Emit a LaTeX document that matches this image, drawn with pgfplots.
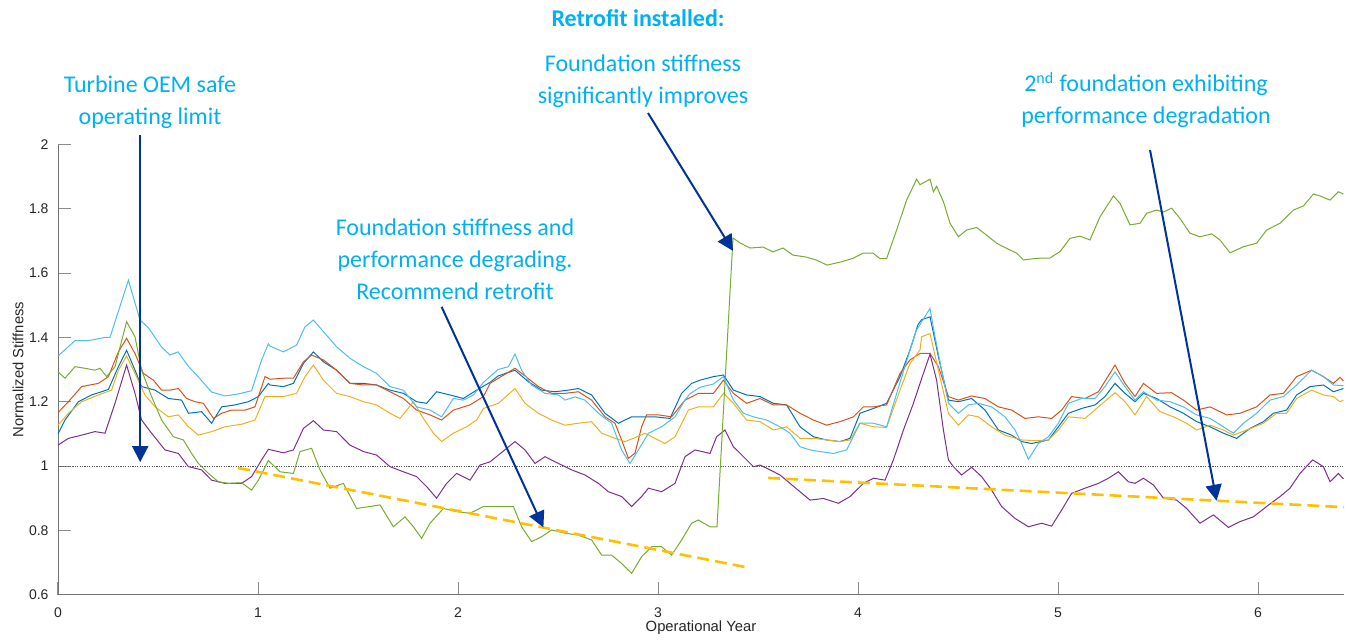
\documentclass[border=0pt]{standalone}
\usepackage{pgfplots}
\pgfplotsset{compat=1.18}
\usepackage{fontspec}
\setmainfont{Liberation Sans}
\newfontfamily\annfont{Carlito}
\usetikzlibrary{arrows.meta}
\definecolor{mB}{HTML}{0072BD}
\definecolor{mO}{HTML}{D95319}
\definecolor{mY}{HTML}{EDB120}
\definecolor{mP}{HTML}{7E2F8E}
\definecolor{mG}{HTML}{77AC30}
\definecolor{mL}{HTML}{4DBEEE}
\definecolor{anncol}{RGB}{0,176,240}
\definecolor{arrcol}{RGB}{0,51,153}
\definecolor{trend}{HTML}{FFC000}
\begin{document}
\begin{tikzpicture}
\begin{axis}[
  at={(29pt,22.2pt)}, anchor=south west,
  scale only axis, width=643pt, height=225.05pt,
  xmin=0, xmax=6.43, ymin=0.6, ymax=2,
  axis lines=left, axis line style={-, black!55},
  tick align=inside, major tick length=6.5pt,
  tick style={black!45, line width=0.5pt},
  xtick={0,1,2,3,4,5,6}, ytick={0.6,0.8,1,1.2,1.4,1.6,1.8,2},
  /pgf/number format/assume math mode=true,
  tick label style={font=\fontsize{7}{8}\selectfont, text=black!85},
  xticklabel style={yshift=-3pt},
  yticklabel style={xshift=-1.2pt},
  xlabel={Operational Year}, ylabel={Normalized Stiffness},
  every axis x label/.style={at={(rel axis cs:0.5,-0.074)}, anchor=center, font=\fontsize{7.4}{8}\selectfont, text=black!85},
  every axis y label/.style={at={(rel axis cs:-0.0311,0.5)}, rotate=90, anchor=center, font=\fontsize{7.4}{8}\selectfont, text=black!85},
  clip=false,
  every axis plot/.append style={line width=0.5pt},
]
% reference line
\addplot[black!65, line width=0.5pt, dash pattern=on 0.6pt off 0.6pt] coordinates {(0,1) (6.43,1)};
% blue
\addplot[mB] coordinates {(0,1.10) (0.035,1.143) (0.102,1.2) (0.168,1.221) (0.252,1.238) (0.302,1.309) (0.343,1.36) (0.385,1.298) (0.418,1.247) (0.485,1.236) (0.552,1.21) (0.618,1.205) (0.652,1.164) (0.718,1.169) (0.768,1.133) (0.818,1.184) (0.885,1.19) (0.952,1.2) (1.002,1.216) (1.052,1.257)
(1.06,1.252) (1.127,1.247) (1.177,1.257) (1.227,1.319) (1.277,1.355) (1.327,1.324) (1.393,1.298) (1.46,1.257) (1.527,1.257) (1.593,1.252) (1.66,1.236) (1.727,1.226) (1.793,1.2) (1.843,1.195) (1.893,1.231) (1.96,1.221) (2.027,1.21) (2.093,1.236) (2.16,1.26)
(2.2,1.28) (2.285,1.298) (2.352,1.262) (2.418,1.236) (2.485,1.231) (2.552,1.236) (2.602,1.241) (2.668,1.221) (2.735,1.164) (2.802,1.133) (2.868,1.153) (2.918,1.153) (2.985,1.153) (3.06,1.148) (3.118,1.226) (3.168,1.257) (3.21,1.267)
(3.277,1.278) (3.327,1.283) (3.377,1.236) (3.443,1.221) (3.51,1.216) (3.577,1.195) (3.643,1.19) (3.71,1.122) (3.777,1.091) (3.843,1.081) (3.91,1.076) (3.96,1.086) (4.01,1.164) (4.077,1.179) (4.143,1.195) (4.21,1.278) (4.26,1.361)
(4.30,1.44) (4.318,1.455) (4.36,1.464) (4.402,1.34) (4.452,1.205) (4.502,1.2) (4.568,1.21) (4.635,1.174) (4.702,1.112) (4.768,1.096) (4.818,1.076) (4.868,1.07) (4.952,1.081) (5.002,1.122) (5.052,1.164) (5.118,1.179) (5.185,1.19) (5.235,1.216) (5.285,1.257) (5.335,1.226) (5.385,1.20)
(5.427,1.226) (5.493,1.21) (5.56,1.184) (5.627,1.164) (5.693,1.138) (5.76,1.122) (5.827,1.102) (5.893,1.086) (5.96,1.117) (6.027,1.138) (6.077,1.164) (6.143,1.174) (6.193,1.221) (6.26,1.247) (6.327,1.252) (6.377,1.231) (6.427,1.241)};
% orange
\addplot[mO] coordinates {(0,1.166) (0.052,1.2) (0.118,1.247) (0.202,1.257) (0.252,1.278) (0.302,1.355) (0.343,1.397) (0.385,1.35) (0.427,1.288) (0.477,1.267) (0.518,1.236) (0.56,1.236) (0.602,1.241) (0.643,1.21) (0.685,1.2) (0.727,1.195) (0.777,1.148) (0.818,1.164) (0.868,1.174) (0.935,1.174) (0.985,1.184) (1.035,1.278) (1.06,1.27)
(1.127,1.273) (1.177,1.273) (1.227,1.324) (1.268,1.345) (1.327,1.33) (1.393,1.298) (1.46,1.257) (1.527,1.252) (1.593,1.252) (1.66,1.231) (1.727,1.21) (1.793,1.174) (1.86,1.159) (1.918,1.143) (1.977,1.174) (2.06,1.19) (2.127,1.216)
(2.16,1.257) (2.202,1.273) (2.285,1.304) (2.335,1.28) (2.402,1.247) (2.468,1.226) (2.535,1.226) (2.602,1.231) (2.668,1.205) (2.735,1.153) (2.785,1.133) (2.818,1.081) (2.852,1.024) (2.885,1.04) (2.918,1.122) (2.943,1.159) (3.002,1.159) (3.068,1.153) (3.135,1.205) (3.202,1.226)
(3.277,1.226) (3.327,1.267) (3.377,1.226) (3.443,1.195) (3.51,1.21) (3.577,1.19) (3.643,1.19) (3.71,1.164) (3.777,1.143) (3.843,1.127) (3.91,1.138) (3.977,1.153) (4.027,1.184) (4.077,1.184) (4.143,1.19) (4.21,1.288) (4.26,1.33) (4.31,1.35)
(4.36,1.35) (4.402,1.309) (4.452,1.216) (4.502,1.205) (4.568,1.218) (4.635,1.21) (4.702,1.184) (4.768,1.174) (4.835,1.148) (4.902,1.153) (4.968,1.148) (5.018,1.174) (5.068,1.216) (5.135,1.21) (5.202,1.231) (5.285,1.314) (5.335,1.257) (5.385,1.216)
(5.427,1.257) (5.493,1.226) (5.568,1.228) (5.627,1.205) (5.693,1.174) (5.76,1.184) (5.843,1.159) (5.91,1.164) (5.993,1.184) (6.06,1.221) (6.127,1.226) (6.193,1.278) (6.268,1.298) (6.327,1.278) (6.377,1.257) (6.41,1.276) (6.427,1.265)};
% yellow
\addplot[mY] coordinates {(0,1.127) (0.052,1.164) (0.118,1.2) (0.202,1.221) (0.268,1.236) (0.302,1.298) (0.343,1.342) (0.385,1.288) (0.435,1.221) (0.485,1.184) (0.552,1.153) (0.602,1.159) (0.652,1.122) (0.702,1.096) (0.768,1.107) (0.835,1.122) (0.918,1.13) (0.985,1.143) (1.035,1.216) (1.06,1.216)
(1.127,1.216) (1.193,1.226) (1.235,1.278) (1.277,1.314) (1.327,1.267) (1.393,1.226) (1.46,1.216) (1.527,1.2) (1.593,1.19) (1.66,1.164) (1.71,1.148) (1.777,1.2) (1.827,1.148) (1.877,1.102) (1.918,1.076) (1.977,1.102) (2.043,1.122) (2.093,1.143) (2.127,1.179)
(2.202,1.195) (2.285,1.241) (2.335,1.195) (2.402,1.164) (2.468,1.143) (2.535,1.127) (2.602,1.133) (2.668,1.138) (2.718,1.102) (2.785,1.086) (2.835,1.076) (2.877,1.086) (2.935,1.102) (2.985,1.086) (3.035,1.07) (3.085,1.091) (3.152,1.174) (3.202,1.184)
(3.277,1.184) (3.327,1.226) (3.377,1.195) (3.443,1.143) (3.51,1.138) (3.577,1.112) (3.643,1.122) (3.71,1.086) (3.777,1.086) (3.843,1.081) (3.91,1.076) (3.96,1.081) (4.01,1.133) (4.077,1.122) (4.143,1.12) (4.21,1.236) (4.26,1.319) (4.31,1.361)
(4.318,1.402) (4.36,1.412) (4.402,1.298) (4.452,1.164) (4.502,1.127) (4.552,1.159) (4.602,1.153) (4.668,1.122) (4.735,1.096) (4.818,1.081) (4.885,1.079) (4.952,1.081) (5.002,1.112) (5.052,1.153) (5.135,1.148) (5.202,1.184) (5.285,1.228) (5.335,1.2) (5.385,1.159)
(5.443,1.216) (5.51,1.169) (5.577,1.153) (5.643,1.133) (5.693,1.112) (5.76,1.127) (5.827,1.112) (5.877,1.096) (5.943,1.112) (6.027,1.133) (6.093,1.164) (6.143,1.164) (6.193,1.21) (6.268,1.236) (6.327,1.221) (6.377,1.216) (6.41,1.2) (6.427,1.205)};
% purple
\addplot[mP] coordinates {(0,1.065) (0.052,1.086) (0.118,1.096) (0.185,1.107) (0.235,1.102) (0.285,1.195) (0.343,1.314) (0.385,1.226) (0.418,1.143) (0.468,1.102) (0.535,1.05) (0.602,1.039) (0.652,0.998) (0.718,0.988) (0.768,0.956) (0.835,0.946) (0.918,0.946) (0.968,0.967) (1.018,1.019) (1.052,1.052)
(1.127,1.041) (1.177,1.05) (1.227,1.117) (1.277,1.141) (1.327,1.112) (1.393,1.107) (1.46,1.065) (1.527,1.045) (1.593,1.034) (1.66,0.998) (1.727,0.982) (1.793,0.967) (1.843,0.936) (1.893,0.9) (1.943,0.946) (1.993,0.977) (2.06,0.956) (2.11,1.003) (2.16,1.013)
(2.202,1.034) (2.285,1.076) (2.335,1.05) (2.385,1.008) (2.435,1.029) (2.502,1.008) (2.568,0.988) (2.635,0.972) (2.702,0.946) (2.752,0.92) (2.818,0.905) (2.868,0.874) (2.918,0.905) (2.952,0.931) (3.018,0.92) (3.085,0.946) (3.135,1.029) (3.185,1.05)
(3.26,1.039) (3.293,1.091) (3.335,1.112) (3.377,1.06) (3.427,1.029) (3.477,0.998) (3.51,1.003) (3.56,0.988) (3.61,0.972) (3.66,0.946) (3.71,0.92) (3.76,0.894) (3.827,0.899) (3.902,0.884) (3.96,0.905) (4.027,0.946) (4.077,0.962) (4.135,0.956) (4.177,1.019) (4.227,1.112) (4.277,1.195) (4.31,1.257)
(4.36,1.348) (4.393,1.267) (4.427,1.112) (4.452,1.019) (4.477,0.998) (4.518,0.972) (4.568,0.996) (4.618,0.967) (4.668,0.925) (4.718,0.874) (4.785,0.837) (4.852,0.811) (4.918,0.822) (4.968,0.813) (5.018,0.863) (5.068,0.915) (5.135,0.931) (5.202,0.946) (5.252,0.962) (5.302,0.982) (5.352,0.951) (5.385,0.946)
(5.427,0.962) (5.477,0.941) (5.527,0.9) (5.593,0.894) (5.643,0.868) (5.71,0.822) (5.777,0.848) (5.852,0.809) (5.91,0.827) (5.977,0.842) (6.043,0.874) (6.11,0.905) (6.16,0.931) (6.21,0.977) (6.273,1.019) (6.327,0.998) (6.36,0.951) (6.402,0.977) (6.427,0.96)};
% green
\addplot[mG] coordinates {(0,1.293) (0.035,1.273) (0.085,1.309) (0.135,1.304) (0.185,1.298) (0.21,1.304) (0.243,1.278) (0.285,1.309) (0.343,1.449) (0.385,1.402) (0.418,1.298) (0.468,1.216) (0.518,1.143) (0.577,1.091) (0.627,1.081) (0.668,1.039) (0.702,1.008) (0.752,0.977) (0.802,0.951) (0.852,0.946) (0.918,0.948) (0.968,0.925) (1.002,0.956) (1.052,1.017)
(1.11,0.982) (1.177,0.977) (1.21,1.045) (1.268,1.055) (1.31,0.988) (1.36,0.931) (1.427,0.946) (1.493,0.868) (1.56,0.874) (1.61,0.879) (1.677,0.811) (1.735,0.842) (1.777,0.811) (1.818,0.775) (1.86,0.822) (1.927,0.868) (1.993,0.858) (2.06,0.853) (2.127,0.874)
(2.202,0.874) (2.277,0.874) (2.318,0.811) (2.368,0.765) (2.418,0.78) (2.468,0.801) (2.535,0.791) (2.602,0.785) (2.668,0.77) (2.718,0.723) (2.768,0.723) (2.818,0.697) (2.868,0.666) (2.918,0.718) (2.968,0.749) (3.018,0.749) (3.068,0.723) (3.118,0.77) (3.168,0.822) (3.202,0.832)
(3.26,0.811) (3.295,0.811) (3.375,1.709) (3.41,1.694) (3.46,1.678) (3.525,1.681) (3.575,1.666) (3.625,1.678) (3.675,1.656) (3.74,1.65) (3.79,1.641) (3.845,1.625) (3.91,1.634) (3.975,1.646) (4.025,1.662) (4.075,1.662) (4.11,1.645) (4.143,1.645)
(4.193,1.734) (4.243,1.827) (4.293,1.892) (4.31,1.875) (4.36,1.892) (4.377,1.853) (4.393,1.87) (4.427,1.822) (4.46,1.755) (4.502,1.713) (4.543,1.734) (4.593,1.742) (4.643,1.718) (4.693,1.693) (4.743,1.677) (4.793,1.662) (4.827,1.641) (4.893,1.646) (4.96,1.647)
(5.01,1.667) (5.06,1.708) (5.11,1.715) (5.16,1.703) (5.21,1.775) (5.277,1.84) (5.31,1.817) (5.36,1.75) (5.41,1.755) (5.443,1.786) (5.493,1.796) (5.527,1.79) (5.568,1.802) (5.61,1.77) (5.66,1.724) (5.71,1.713) (5.768,1.722) (5.81,1.703) (5.86,1.663) (5.927,1.682) (5.993,1.693)
(6.043,1.734) (6.11,1.755) (6.177,1.796) (6.227,1.809) (6.277,1.846) (6.31,1.84) (6.36,1.827) (6.402,1.853) (6.427,1.846)};
% light blue
\addplot[mL] coordinates {(0,1.342) (0.085,1.39) (0.152,1.39) (0.235,1.40) (0.26,1.40) (0.352,1.578) (0.41,1.454) (0.452,1.43) (0.518,1.37) (0.56,1.345) (0.60,1.355) (0.652,1.31) (0.70,1.278) (0.768,1.23) (0.835,1.218) (0.90,1.224) (0.968,1.234) (1.018,1.33) (1.052,1.38)
(1.06,1.373) (1.127,1.355) (1.193,1.376) (1.235,1.433) (1.277,1.454) (1.327,1.418) (1.393,1.371) (1.46,1.335) (1.527,1.309) (1.593,1.288) (1.66,1.247) (1.727,1.236) (1.793,1.184) (1.86,1.174) (1.918,1.153) (1.977,1.21) (2.027,1.205) (2.077,1.221) (2.127,1.26)
(2.2,1.30) (2.252,1.309) (2.285,1.348) (2.318,1.298) (2.368,1.252) (2.435,1.226) (2.502,1.221) (2.535,1.205) (2.585,1.215) (2.635,1.205) (2.702,1.164) (2.768,1.133) (2.818,1.05) (2.86,1.008) (2.902,1.05) (2.952,1.102) (3.018,1.122) (3.085,1.153) (3.135,1.205) (3.16,1.225)
(3.21,1.245) (3.277,1.255) (3.327,1.278) (3.377,1.205) (3.427,1.164) (3.477,1.153) (3.543,1.143) (3.61,1.122) (3.66,1.102) (3.71,1.06) (3.76,1.05) (3.81,1.045) (3.877,1.039) (3.943,1.05) (4.01,1.133) (4.077,1.133) (4.143,1.122) (4.21,1.26) (4.26,1.36)
(4.29,1.42) (4.32,1.45) (4.36,1.49) (4.385,1.402) (4.418,1.298) (4.452,1.195) (4.502,1.164) (4.552,1.19) (4.602,1.195) (4.668,1.184) (4.735,1.153) (4.785,1.112) (4.818,1.07) (4.852,1.021) (4.902,1.07) (4.952,1.091) (5.002,1.133) (5.052,1.195) (5.118,1.21) (5.185,1.21) (5.235,1.247) (5.285,1.293) (5.335,1.247) (5.385,1.205)
(5.427,1.231) (5.493,1.205) (5.56,1.2) (5.627,1.184) (5.693,1.159) (5.76,1.148) (5.827,1.122) (5.877,1.102) (5.927,1.133) (5.993,1.164) (6.06,1.205) (6.127,1.216) (6.193,1.252) (6.268,1.298) (6.327,1.278) (6.377,1.252) (6.427,1.25)};
% trend lines
\addplot[trend, line width=1.3pt, dash pattern=on 6pt off 3pt] coordinates {(0.9,0.994) (3.435,0.686)};
\addplot[trend, line width=1.3pt, dash pattern=on 6pt off 3pt] coordinates {(3.55,0.963) (6.43,0.872)};
% arrows
\draw[arrcol, line width=1pt, -{Triangle[width=8pt,length=8pt]}] (axis cs:0.411,2.03) -- (axis cs:0.411,1.012);
\draw[arrcol, line width=1pt, -{Triangle[width=8pt,length=8pt]}] (axis cs:1.918,1.495) -- (axis cs:2.427,0.809);
\draw[arrcol, line width=1pt, -{Triangle[width=8pt,length=8pt]}] (axis cs:2.95,2.098) -- (axis cs:3.375,1.669);
\draw[arrcol, line width=1pt, -{Triangle[width=8pt,length=8pt]}] (axis cs:5.46,1.983) -- (axis cs:5.793,0.892);
% annotations
\begin{scope}[every node/.style={text=anncol, align=center, font=\annfont\fontsize{12}{16}\selectfont}]
\node at (axis cs:0.46,2.132) {Turbine OEM safe\\operating limit};
\node at (axis cs:1.985,1.644) {Foundation stiffness and\\performance degrading.\\Recommend retrofit};
\node at (axis cs:2.90,2.393) {\bfseries Retrofit installed:};
\node at (axis cs:2.925,2.196) {Foundation stiffness\\significantly improves};
\node at (axis cs:5.44,2.138) {2\textsuperscript{nd} foundation exhibiting\\performance degradation};
\end{scope}
\end{axis}
\pgfresetboundingbox
\path[use as bounding box] (0,0) rectangle (676pt,319.5pt);
\end{tikzpicture}
\end{document}
